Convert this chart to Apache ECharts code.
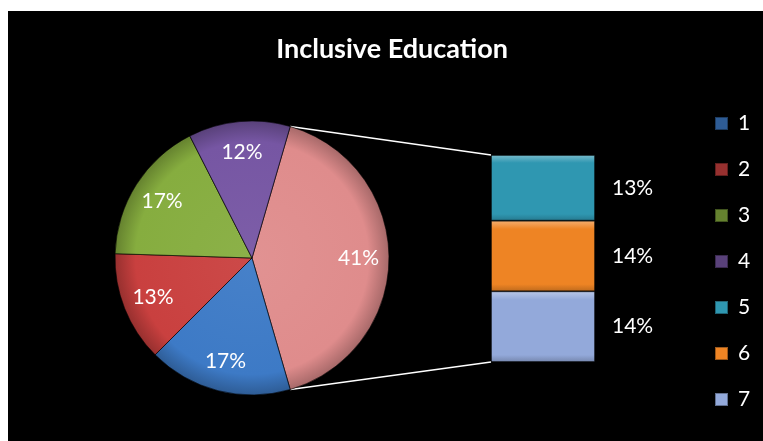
<!DOCTYPE html>
<html>
<head>
<meta charset="utf-8">
<script src="https://cdn.jsdelivr.net/npm/echarts@6/dist/echarts.min.js"></script>
<style>
html,body{margin:0;padding:0;background:#ffffff;}
#bg{position:absolute;left:8px;top:11px;width:755px;height:430px;background:#000000;}
#chart{position:absolute;left:0;top:0;width:763px;height:441px;}
</style>
</head>
<body>
<div id="bg"></div>
<div id="chart"></div>
<script>
// ---- data ----
var title = 'Inclusive Education';
var pieNames = ['1', '2', '3', '4'];
var pieValues = [17, 13, 17, 12];
var barNames = ['5', '6', '7'];
var barValues = [13, 14, 14];
var otherName = 'Other';
var legendNames = ['1', '2', '3', '4', '5', '6', '7'];

// ---- styles ----
var colors = {
  '1': '#3d7ac6', '2': '#c9403f', '3': '#86ad3f', '4': '#7656a3',
  '5': '#2f97b1', '6': '#ee8424', '7': '#93a9da', 'Other': '#df8c8c'
};
var FONT = 'Lato';
var cx = 252, cy = 258, R = 137;
var grid = {left: 491, top: 155, width: 104, height: 207};

function shade(hex, amt) {
  var n = parseInt(hex.slice(1), 16);
  var r = (n >> 16) & 255, g = (n >> 8) & 255, b = n & 255;
  function f(c) { return Math.max(0, Math.min(255, Math.round(c + (amt > 0 ? (255 - c) * amt : c * amt)))); }
  return 'rgb(' + f(r) + ',' + f(g) + ',' + f(b) + ')';
}

var otherTotal = barValues.reduce(function (a, b) { return a + b; }, 0);
var total = otherTotal + pieValues.reduce(function (a, b) { return a + b; }, 0);
var startAngle = otherTotal / total * 180;

var pieData = [{name: otherName, value: otherTotal}].concat(pieNames.map(function (n, i) {
  return {name: n, value: pieValues[i]};
}));

function pieColor(name) {
  var c = colors[name];
  return {
    type: 'radial', x: cx, y: cy, r: R, global: true,
    colorStops: [{offset: 0, color: shade(c, 0.05)}, {offset: 0.85, color: c}, {offset: 1, color: shade(c, -0.25)}]
  };
}

var series = [];
series.push({
  type: 'pie', name: 'pie', center: [cx, cy], radius: [0, R],
  startAngle: startAngle, clockwise: true, silent: true,
  label: {show: false}, labelLine: {show: false},
  itemStyle: {borderColor: 'rgba(0,0,0,0.35)', borderWidth: 1},
  data: pieData.map(function (d) {
    return {name: d.name, value: d.value, itemStyle: {color: pieColor(d.name)}};
  })
});
series.push({
  type: 'pie', name: 'pieLabels', center: [cx, cy], radius: [70, R],
  startAngle: startAngle, clockwise: true, silent: true,
  labelLine: {show: false},
  label: {show: true, position: 'inside', formatter: '{c}%', color: '#ffffff', fontSize: 21, fontFamily: FONT},
  itemStyle: {color: 'rgba(0,0,0,0)'},
  data: pieData.map(function (d) { return {name: d.name, value: d.value, itemStyle: {color: 'rgba(0,0,0,0)'}}; })
});

// stacked bar: bottom first
for (var i = barNames.length - 1; i >= 0; i--) {
  var c = colors[barNames[i]];
  series.push({
    type: 'bar', name: barNames[i], stack: 'other', barWidth: '100%', silent: true,
    itemStyle: {
      color: {type: 'linear', x: 0, y: 0, x2: 0, y2: 1,
        colorStops: [{offset: 0, color: shade(c, 0.35)}, {offset: 0.12, color: c}, {offset: 0.9, color: c}, {offset: 1, color: shade(c, -0.2)}]},
      borderColor: 'rgba(0,0,0,0.35)', borderWidth: 1
    },
    label: {show: true, position: 'right', distance: 17, formatter: '{c}%', color: '#ffffff', fontSize: 21, fontFamily: FONT},
    data: [barValues[i]]
  });
}

// connector lines computed from pie layout and the bar grid
var a = startAngle * Math.PI / 180;
var px = cx + R * Math.cos(a), pyTop = cy - R * Math.sin(a), pyBot = cy + R * Math.sin(a);

var chart = echarts.init(document.getElementById('chart'));
chart.setOption({
  backgroundColor: 'transparent',
  color: legendNames.map(function (n) { return colors[n]; }),
  title: {
    text: title, left: 392, top: 36, textAlign: 'center', padding: 0,
    textStyle: {color: '#ffffff', fontSize: 27, fontWeight: 'bold', fontFamily: FONT}
  },
  legend: {
    data: legendNames, orient: 'vertical', left: 714, top: 113, padding: 0,
    itemWidth: 13, itemHeight: 13, itemGap: 25, icon: 'rect',
    selectedMode: false,
    textStyle: {color: '#ffffff', fontSize: 21, fontFamily: FONT, lineHeight: 20, padding: [0, 0, 0, 5]}
  },
  grid: {left: grid.left, top: grid.top, width: grid.width, height: grid.height},
  xAxis: {type: 'category', data: [''], show: false},
  yAxis: {type: 'value', min: 0, max: otherTotal, show: false},
  graphic: [
    {type: 'line', shape: {x1: px, y1: pyTop, x2: grid.left, y2: grid.top}, style: {stroke: '#ffffff', lineWidth: 1.5}, silent: true},
    {type: 'line', shape: {x1: px, y1: pyBot, x2: grid.left, y2: grid.top + grid.height}, style: {stroke: '#ffffff', lineWidth: 1.5}, silent: true}
  ],
  series: series
});
</script>
</body>
</html>
